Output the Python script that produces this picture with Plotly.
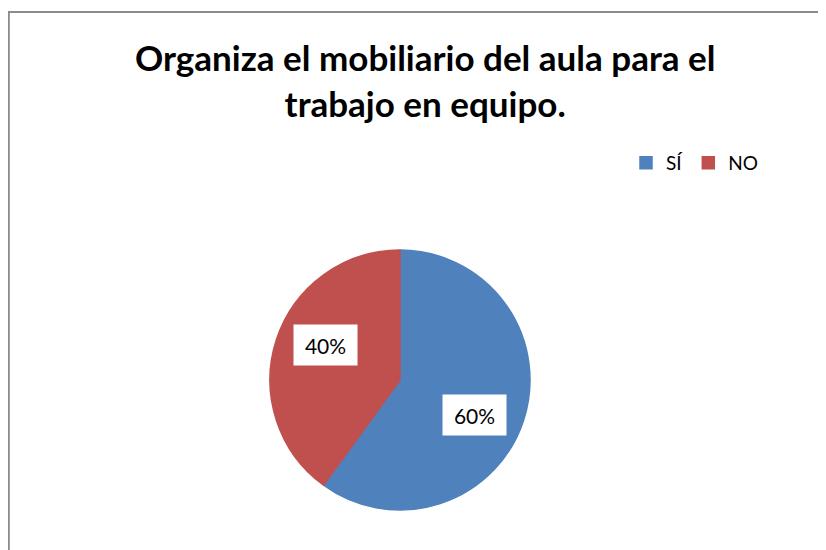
import math
import plotly.graph_objects as go

# Chart data
labels = ["SÍ", "NO"]
values = [60, 40]
colors = ["#4F81BD", "#C0504D"]
title_text = "<b>Organiza el mobiliario del aula para el<br>trabajo en equipo.</b>"

W, H = 826, 550
OFF = 8  # page body margin
cx, cy, R = 400 - OFF, 380 - OFF, 130  # pie centre / radius in pixels (from top-left)
LABEL_R = 0.635   # label distance as fraction of radius
LABEL_ROT = 7     # labels sit a little clockwise of the slice middle

fig = go.Figure()

fig.add_trace(
    go.Pie(
        labels=labels,
        values=values,
        marker=dict(colors=colors, line=dict(width=1.5, color=colors)),
        sort=False,
        direction="clockwise",
        rotation=0,
        textinfo="none",
        hoverinfo="label+percent",
        domain=dict(
            x=[(cx - R) / W, (cx + R) / W],
            y=[(H - cy - R) / H, (H - cy + R) / H],
        ),
    )
)

# Percentage labels in white boxes
total = sum(values)
start = 0.0
for v in values:
    mid = start + v / total * 360 / 2 + LABEL_ROT
    start += v / total * 360
    theta = math.radians(mid)
    px = cx + LABEL_R * R * math.sin(theta)
    py = cy - LABEL_R * R * math.cos(theta)
    fig.add_annotation(
        x=px / W, y=1 - py / H, xref="paper", yref="paper",
        xanchor="center", yanchor="middle",
        text=f"{v / total * 100:.0f}%",
        showarrow=False,
        bgcolor="white",
        width=57, height=34, borderpad=3,
        font=dict(family="Lato", size=21, color="black"),
    )

# Title
fig.add_annotation(
    x=(425 - OFF) / W, y=1 - (80 - OFF) / H, xref="paper", yref="paper",
    xanchor="center", yanchor="middle",
    text=title_text, showarrow=False,
    font=dict(family="Lato", size=35, color="black"),
    align="center",
)

# Chart area border
fig.add_shape(
    type="rect", xref="paper", yref="paper",
    x0=(8 - OFF) / W + 0.001, x1=(820 - OFF) / W, y0=-0.05, y1=1 - (12 - OFF) / H,
    line=dict(color="#8C8C8C", width=2), fillcolor="rgba(0,0,0,0)",
    layer="below",
)

fig.update_layout(
    width=W,
    height=H,
    margin=dict(l=0, r=0, t=0, b=0),
    paper_bgcolor="white",
    plot_bgcolor="white",
    showlegend=True,
    legend=dict(
        orientation="h",
        x=(626 - OFF) / W, y=1 - (144 - OFF) / H,
        xanchor="left", yanchor="top",
        font=dict(family="Lato", size=19, color="black"),
        itemwidth=30,
    ),
)

fig.write_html("out.html")
